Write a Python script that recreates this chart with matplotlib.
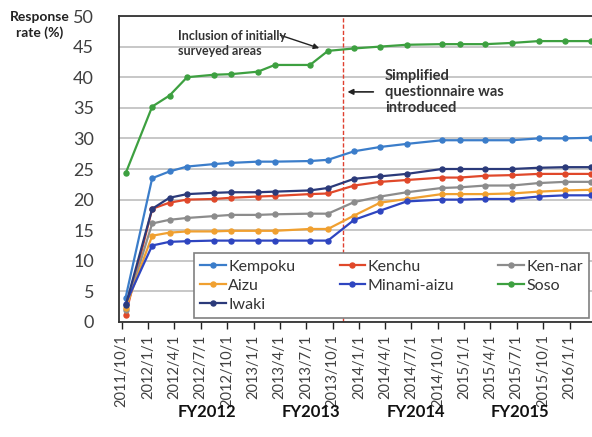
import matplotlib
matplotlib.use("Agg")
import matplotlib.pyplot as plt
import matplotlib.dates as mdates
import matplotlib.transforms as mtransforms
from datetime import date

plt.rcParams['font.family'] = ['Lato', 'DejaVu Sans']

survey_dates = ["2011-10-15", "2012-01-15", "2012-03-15", "2012-05-15", "2012-08-15",
                "2012-10-15", "2013-01-15", "2013-03-15", "2013-07-15", "2013-09-15",
                "2013-12-15", "2014-03-15", "2014-06-15", "2014-10-15", "2014-12-15",
                "2015-03-15", "2015-06-15", "2015-09-15", "2015-12-15", "2016-03-15"]

kempoku = [4.0, 23.5, 24.6, 25.4, 25.8, 26.0, 26.2, 26.2, 26.3, 26.5,
           27.9, 28.6, 29.1, 29.7, 29.7, 29.7, 29.7, 30.0, 30.0, 30.1]
kenchu = [1.2, 18.5, 19.5, 20.0, 20.1, 20.3, 20.5, 20.6, 20.9, 21.0,
          22.3, 22.9, 23.2, 23.6, 23.6, 23.9, 24.0, 24.2, 24.2, 24.2]
ken_nar = [2.0, 16.1, 16.7, 17.0, 17.3, 17.5, 17.5, 17.6, 17.7, 17.7,
           19.6, 20.5, 21.2, 21.9, 22.0, 22.3, 22.3, 22.7, 22.9, 22.9]
aizu = [2.3, 14.1, 14.6, 14.8, 14.8, 14.9, 14.9, 14.9, 15.2, 15.2,
        17.4, 19.5, 20.1, 20.9, 20.9, 20.9, 21.0, 21.3, 21.5, 21.6]
minami_aizu = [3.0, 12.5, 13.1, 13.2, 13.3, 13.3, 13.3, 13.3, 13.3, 13.3,
               16.7, 18.2, 19.7, 20.0, 20.0, 20.1, 20.1, 20.5, 20.7, 20.7]
soso = [24.3, 35.2, 37.0, 40.0, 40.4, 40.5, 40.9, 42.0, 42.0, 44.3,
        44.7, 45.0, 45.3, 45.4, 45.4, 45.4, 45.6, 45.9, 45.9, 45.9]
iwaki = [2.7, 18.5, 20.3, 20.9, 21.1, 21.2, 21.2, 21.3, 21.5, 21.9,
         23.4, 23.8, 24.2, 25.0, 25.0, 25.0, 25.0, 25.2, 25.3, 25.3]

series_names = ["Kempoku", "Kenchu", "Ken-nar", "Aizu", "Minami-aizu", "Soso", "Iwaki"]
series_values = [kempoku, kenchu, ken_nar, aizu, minami_aizu, soso, iwaki]
series_colors = ["#3B7DCA", "#E0482A", "#8C8C8C", "#F0A030", "#2E45C0", "#3DA040", "#2B3A7A"]

tick_dates = ["2011-10-01", "2012-01-01", "2012-04-01", "2012-07-01", "2012-10-01",
              "2013-01-01", "2013-04-01", "2013-07-01", "2013-10-01", "2014-01-01",
              "2014-04-01", "2014-07-01", "2014-10-01", "2015-01-01", "2015-04-01",
              "2015-07-01", "2015-10-01", "2016-01-01"]

fy_labels = ["FY2012", "FY2013", "FY2014", "FY2015"]
fy_positions = ["2012-07-22", "2013-07-17", "2014-07-17", "2015-07-12"]

questionnaire_change = "2013-11-06"

def d(s):
    y, m, dd = map(int, s.split("-"))
    return date(y, m, dd)

x = [d(s) for s in survey_dates]

fig = plt.figure(figsize=(5.92, 4.37), dpi=100)
ax = fig.add_axes([119/592, (437-322)/437, 475/592, 306/437])

for name, vals, col in zip(series_names, series_values, series_colors):
    ax.plot(x, vals, color=col, lw=1.6, marker='o', ms=3.6, label=name, zorder=3)

ax.set_ylim(0, 50)
ax.set_xlim(d("2011-09-22"), d("2016-03-25"))
ax.set_yticks(range(0, 51, 5))
ax.yaxis.grid(True, color='#BDBDBD', lw=1.2)
ax.set_axisbelow(True)
ax.tick_params(axis='y', length=0, pad=18, labelsize=13, labelcolor='#404040')

ax.set_xticks([d(s) for s in tick_dates])
ax.set_xticklabels([f"{d(s).year}/{d(s).month}/{d(s).day}" for s in tick_dates],
                   rotation=90, fontsize=10.5, color='#404040')
ax.tick_params(axis='x', direction='out', length=5, width=1, color='#222222', pad=4)

for sp in ['left', 'bottom', 'top']:
    ax.spines[sp].set_color('#333333')
    ax.spines[sp].set_linewidth(1.3)
ax.spines['right'].set_visible(False)

ax.axvline(d(questionnaire_change), color='#E04030', lw=1, ls=(0, (3, 1.5)), zorder=2)

# legend in row-wise order
handles, labels = ax.get_legend_handles_labels()
order = [0, 3, 6, 1, 4, 2, 5]
leg = ax.legend([handles[i] for i in order], [labels[i] for i in order],
                ncol=3, loc='lower left', bbox_to_anchor=(0.158, 0.013, 0.832, 0.225),
                mode='expand', borderaxespad=0, fancybox=False, framealpha=1,
                edgecolor='#808080', fontsize=11.5, handlelength=1.6, handletextpad=0.15,
                labelspacing=0.3, borderpad=0.4)
leg.get_frame().set_linewidth(1.2)
leg.set_zorder(5)
for t in leg.get_texts():
    t.set_color('#333333')

# annotations
ax.annotate("", xy=(d("2013-08-25"), 44.6), xytext=(d("2013-03-25"), 47.0),
            arrowprops=dict(arrowstyle='-|>', color='#222222', lw=1, mutation_scale=8))
ax.text(d("2012-04-15"), 45.5, "Inclusion of initially\nsurveyed areas", fontsize=9,
        fontweight='bold', color='#333333', va='center', ha='left', linespacing=1.25)

ax.annotate("", xy=(d("2013-11-12"), 37.6), xytext=(d("2014-03-01"), 37.6),
            arrowprops=dict(arrowstyle='-|>', color='#222222', lw=1.2, mutation_scale=8))
ax.text(d("2014-04-01"), 37.6, "Simplified\nquestionnaire was\nintroduced", fontsize=10.5,
        fontweight='bold', color='#333333', va='center', ha='left', linespacing=1.2)

# y label
fig.text(40/592, 1 - 25/437, "Response\nrate (%)", ha='center', va='center', fontsize=10,
         fontweight='bold', color='#222222', linespacing=1.3)

# FY labels
trans = mtransforms.blended_transform_factory(ax.transData, fig.transFigure)
for lab, pos in zip(fy_labels, fy_positions):
    ax.text(d(pos), 1 - 412/437, lab, transform=trans, ha='center', va='center',
            fontsize=12, color='#111111', fontweight='bold')

fig.savefig("out.png", dpi=100)
